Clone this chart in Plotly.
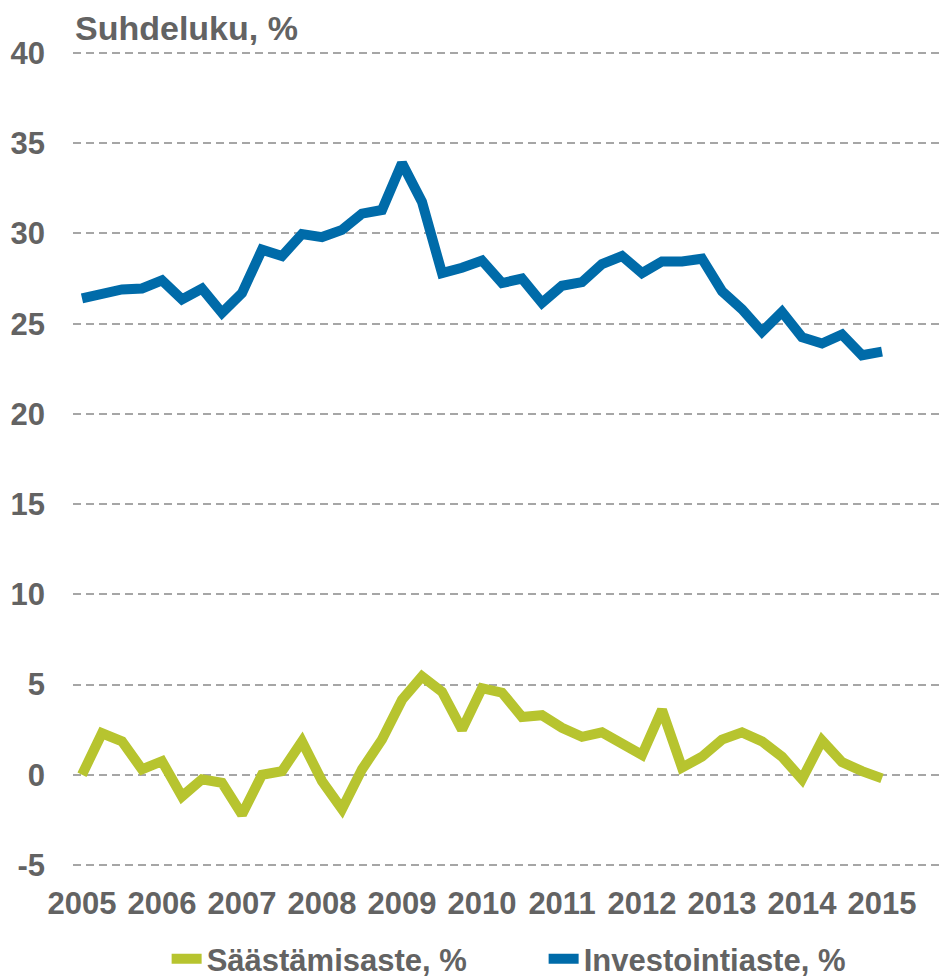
import plotly.graph_objects as go

# Quarterly periods 2005Q1 .. 2015Q1
start_year = 2005
n_quarters = 41
quarters = [f"{start_year + i // 4}Q{i % 4 + 1}" for i in range(n_quarters)]

saastamisaste = [0.0, 2.3, 1.85, 0.3, 0.75, -1.2, -0.25, -0.45, -2.2, 0.0,
                 0.2, 1.85, -0.35, -1.9, 0.3, 1.95, 4.15, 5.45, 4.6, 2.5,
                 4.8, 4.55, 3.2, 3.3, 2.6, 2.1, 2.35, 1.8, 1.1, 3.6,
                 0.4, 1.0, 1.95, 2.35, 1.85, 1.0, -0.25, 1.9, 0.7, 0.2, -0.2]

investointiaste = [26.4, 26.7, 26.9, 26.95, 27.4, 26.35, 26.95, 25.6, 26.7, 29.1,
                   28.75, 29.97, 29.8, 30.2, 31.1, 31.3, 33.9, 31.75, 27.8, 28.1,
                   28.5, 27.25, 27.5, 26.15, 27.1, 27.3, 28.3, 28.75, 27.8, 28.45,
                   28.45, 28.6, 26.8, 25.8, 24.55, 25.65, 24.25, 23.9, 24.4, 23.25, 23.45]

year_ticks = list(range(2005, 2016))
y_ticks = [-5, 0, 5, 10, 15, 20, 25, 30, 35, 40]
y_tick_labels = ["-5", "0", "5", "10", "15", "20", "25", "30", "35", "40"]

x = [int(q[:4]) + (int(q[-1]) - 1) / 4 for q in quarters]

GREEN = "#B7C42F"
BLUE = "#006BA9"
GRAY = "#636363"
FONT = "Liberation Sans"

fig = go.Figure()
fig.add_trace(go.Scatter(x=x, y=saastamisaste, mode="lines", name="Säästämisaste, %",
                         line=dict(color=GREEN, width=10)))
fig.add_trace(go.Scatter(x=x, y=investointiaste, mode="lines", name="Investointiaste, %",
                         line=dict(color=BLUE, width=10)))

fig.update_layout(
    width=940, height=971,
    margin=dict(l=65, r=0, t=36, b=105, autoexpand=False),
    paper_bgcolor="white", plot_bgcolor="white",
    font=dict(family=FONT, color=GRAY),
    showlegend=True,
    legend=dict(orientation="h", x=0.107, xanchor="left", y=-0.0700, yanchor="top",
                font=dict(family=FONT, size=31, color=GRAY, weight="bold"),
                entrywidth=332, entrywidthmode="pixels", itemwidth=30),
    xaxis=dict(range=[2004.8875, 2015.825], tickvals=year_ticks,
               ticktext=[str(y) for y in year_ticks], automargin=False,
               showgrid=False, zeroline=False, showline=False, ticks="",
               tickfont=dict(size=31, color=GRAY, weight="bold"),
               ticklabelstandoff=8),
    yaxis=dict(range=[-5.5, 40.5], tickvals=y_ticks, ticktext=y_tick_labels,
               automargin=False,
               showgrid=True, gridcolor="#A6A6A6", gridwidth=1.5, griddash="8px,5px",
               zeroline=False, showline=False, ticks="",
               tickfont=dict(size=31, color=GRAY, weight="bold"),
               ticklabelstandoff=27),
    annotations=[dict(text="<b>Suhdeluku, %</b>", xref="paper", yref="paper",
                      x=0, y=1, xanchor="left", yanchor="middle", yshift=16,
                      showarrow=False, font=dict(size=34, color=GRAY, family=FONT))],
)

fig.write_html("out.html")
